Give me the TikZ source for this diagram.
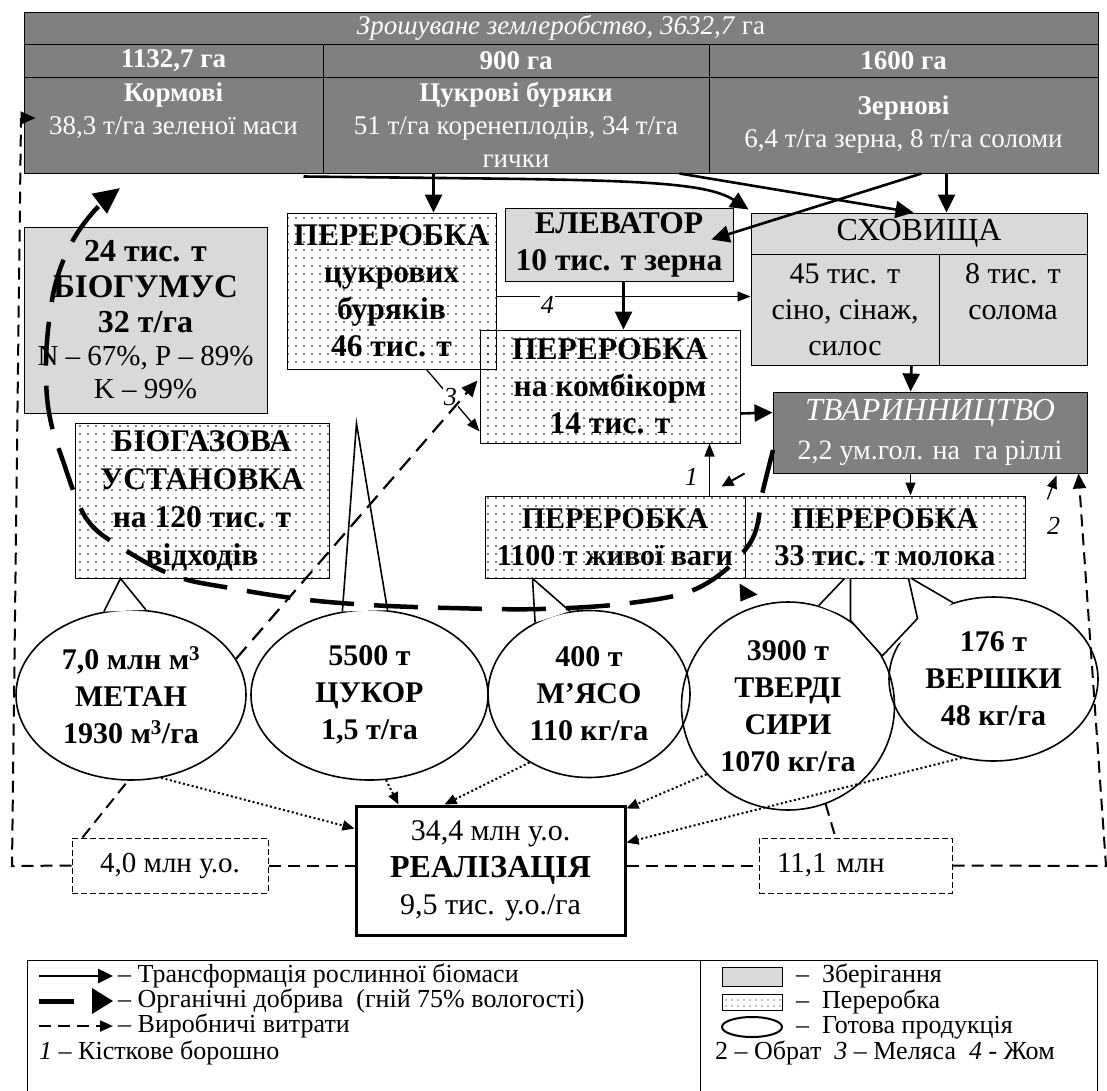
\documentclass[tikz,border=0pt]{standalone}
\usepackage{fontspec}
\setmainfont{Liberation Serif}
\usetikzlibrary{arrows.meta,calc,shapes.geometric,patterns.meta}
\definecolor{darkfill}{RGB}{128,128,128}
\definecolor{lightfill}{RGB}{217,217,217}
\tikzset{
  cell/.style={draw, line width=1pt, fill=darkfill, text=white, inner sep=0pt, align=center, font=\fontsize{27}{33}\selectfont},
  stor/.style={draw, line width=1pt, fill=lightfill, inner sep=0pt, align=center},
  proc/.style={draw, line width=1pt, pattern={Dots[distance=8pt,radius=0.9pt]}, inner sep=0pt, align=center, font=\fontsize{31.5}{37}\selectfont\bfseries},
  prod/.style={draw, ellipse, line width=1.6pt, inner sep=0pt, align=center, font=\fontsize{30}{37}\selectfont\bfseries},
  callout/.style={line width=1.6pt, line join=miter},
  tr/.style={line width=2.6pt, -{Triangle[length=18pt,width=17pt]}},
  aux/.style={line width=1.3pt, -{Triangle[length=13pt,width=10pt]}},
  cost/.style={line width=2pt, dash pattern=on 12pt off 7pt},
  sold/.style={line width=2pt, dash pattern=on 2pt off 2.5pt, -{Triangle[length=12pt,width=10pt]}},
  fert/.style={line width=4.5pt, dash pattern=on 44pt off 20pt},
  num/.style={font=\fontsize{26}{30}\selectfont\itshape, inner sep=1pt},
  lgd/.style={font=\fontsize{26}{26}\selectfont, inner sep=0pt, text height=17pt, text depth=5pt, anchor=west},
}
\begin{document}
\begin{tikzpicture}[x=1pt,y=-1pt]
\useasboundingbox (0,0) rectangle (1107,1090);
% fields
\node[cell, minimum width=1074, minimum height=32] (area) at (561,28) {\textit{Зрошуване землеробство, 3632,7} га};
\node[cell, font=\fontsize{27}{33}\selectfont\bfseries, minimum width=299, minimum height=33] (ha1) at (173.5,60.5) {1132,7 га};
\node[cell, font=\fontsize{27}{33}\selectfont\bfseries, minimum width=386, minimum height=33] (ha2) at (516,60.5) {900 га};
\node[cell, font=\fontsize{27}{33}\selectfont\bfseries, minimum width=389, minimum height=33] (ha3) at (903.5,60.5) {1600 га};
\node[cell, minimum width=299, minimum height=96] (korm) at (173.5,125) {\textbf{Кормові}\\38,3 т/га зеленої маси\\~};
\node[cell, minimum width=386, minimum height=96] (tsuk) at (516,125) {\textbf{Цукрові буряки}\\51 т/га коренеплодів, 34 т/га\\гички};
\node[cell, minimum width=389, minimum height=96] (zern) at (903.5,125) {\textbf{Зернові}\\6,4 т/га зерна, 8 т/га соломи};
% storage and processing
\node[stor, minimum width=243, minimum height=186, font=\fontsize{29}{33}\selectfont] (humus) at (145.5,320)
  {\textbf{\fontsize{32}{33}\selectfont 24 тис. т}\\[3pt]\textbf{\fontsize{33}{33}\selectfont БІОГУМУС}\\[2pt]\textbf{\fontsize{32}{33}\selectfont 32 т/га}\\N – 67\%, P – 89\%\\K – 99\%};
\node[proc, minimum width=209, minimum height=156] (sbeet) at (391.5,291) {ПЕРЕРОБКА\\цукрових\\буряків\\46 тис. т};
\node[stor, font=\fontsize{31.5}{37}\selectfont\bfseries, minimum width=228, minimum height=73] (elev) at (619,244.5) {ЕЛЕВАТОР\\10 тис. т зерна};
\node[stor, font=\fontsize{32}{37}\selectfont, minimum width=336, minimum height=41] (sklad) at (919,233.5) {СХОВИЩА};
\node[stor, font=\fontsize{30}{36}\selectfont, minimum width=188, minimum height=111] (hay) at (845,309.5) {45 тис. т\\сіно, сінаж,\\силос};
\node[stor, font=\fontsize{30}{36}\selectfont, minimum width=148, minimum height=111] (straw) at (1013,309.5) {8 тис. т\\солома\\~};
\node[proc, minimum width=260, minimum height=113] (feed) at (610,386.5) {ПЕРЕРОБКА\\на комбікорм\\14 тис. т};
\node[cell, minimum width=314, minimum height=81, font=\fontsize{28}{39}\selectfont] (live) at (930,432.5) {{\fontsize{32}{39}\selectfont\itshape ТВАРИННИЦТВО}\\2,2 ум.гол. на~ га ріллі};
\node[proc, minimum width=254, minimum height=155, font=\fontsize{31.5}{38}\selectfont\bfseries] (biogas) at (202,500.5) {БІОГАЗОВА\\УСТАНОВКА\\на 120 тис. т\\відходів};
\node[proc, minimum width=260, minimum height=82, font=\fontsize{30}{37}\selectfont\bfseries] (meat) at (615,537) {ПЕРЕРОБКА\\1100 т живої ваги};
\node[proc, minimum width=280, minimum height=82, font=\fontsize{30}{37}\selectfont\bfseries] (milk) at (885,537) {ПЕРЕРОБКА\\33 тис. т молока};
% products
\node[prod, minimum width=230, minimum height=170] (met) at (131,695) {7,0 млн м\textsuperscript{3}\\МЕТАН\\1930 м\textsuperscript{3}/га};
\node[prod, minimum width=237, minimum height=170] (sug) at (369.5,695) {5500 т\\ЦУКОР\\1,5 т/га};
\node[prod, minimum width=202, minimum height=167] (mea) at (589,694) {400 т\\М’ЯСО\\110 кг/га};
\node[prod, minimum width=213, minimum height=208] (che) at (788,706) {3900 т\\ТВЕРДІ\\СИРИ\\1070 кг/га};
\node[prod, minimum width=209, minimum height=164] (cre) at (993.5,679) {176 т\\ВЕРШКИ\\48 кг/га};
% sales
\node[draw, line width=3pt, minimum width=269, minimum height=129, inner sep=0pt, align=center, font=\fontsize{30}{37}\selectfont] (sale) at (490.5,870.5)
  {34,4 млн у.о.\\{\fontsize{32}{37}\selectfont\bfseries РЕАЛІЗАЦІЯ}\\9,5 тис. у.о./га};
\node[draw, line width=1pt, dash pattern=on 6pt off 3pt, minimum width=196, minimum height=55, inner sep=0pt, font=\fontsize{29}{33}\selectfont] (rev4) at (170,865.5) {4,0 млн у.о.};
\node[draw, line width=1pt, dash pattern=on 6pt off 3pt, minimum width=193, minimum height=55, inner xsep=18pt, inner ysep=0pt, text width=157, align=left, font=\fontsize{29}{33}\selectfont] (rev11) at (855.5,865.5) {11,1 млн};
% callouts
\coordinate (sugtip) at ($(sbeet.south west)+(70,54)$);
\fill[white] (met.108) -- ($(biogas.south west)+(46,0)$) -- (met.80) -- cycle;
\draw[callout] (met.108) -- ($(biogas.south west)+(46,0)$) -- (met.80);
\fill[white] (sug.108) -- (sugtip) -- (sug.78) -- cycle;
\draw[callout] (sug.108) -- (sugtip) -- (sug.78);
\fill[white] (mea.127) -- ($(meat.south west)+(48,0)$) -- (mea.103) -- cycle;
\draw[callout] (mea.127) -- ($(meat.south west)+(48,0)$) -- (mea.103);
\fill[white] (che.73) -- ($(milk.south west)+(100,0)$) -- ($(milk.south west)+(106,0)$) -- ($(milk.south west)+(106,42)$) -- (che.28) -- ($(che.45)+(6,-6)$) -- cycle;
\draw[callout] (che.73) -- ($(milk.south west)+(100,0)$);
\draw[callout] ($(milk.south west)+(106,0)$) -- ($(milk.south west)+(106,42)$) -- (che.28);
\fill[white] (che.28) -- ($(milk.south west)+(173,40)$) -- ($(milk.south west)+(164,0)$) -- ($(milk.south west)+(167,0)$) -- (cre.118) -- cycle;
\draw[callout] (che.28) -- ($(milk.south west)+(173,40)$) -- ($(milk.south west)+(164,0)$);
\draw[callout] ($(milk.south west)+(167,0)$) -- (cre.118);
% plant biomass
\draw[tr] ($(tsuk.south west)+(111,0)$) -- ($(sbeet.north west)+(147,0)$);
\draw[tr] ($(korm.south east)+(-20,3)$) .. controls (600,180) and (700,178) .. ($(sklad.north west)+(-2,-3)$);
\draw[tr] ($(tsuk.south east)+(-30,0)$) -- ($(sklad.north west)+(163,0)$);
\draw[tr] ($(zern.south west)+(213,0)$) -- ($(elev.north east)+(-22,32)$);
\draw[tr] ($(zern.south west)+(238,0)$) -- ($(sklad.north west)+(196,0)$);
\draw[tr] ($(elev.south west)+(119,0)$) -- ($(feed.north west)+(144,0)$);
\draw[tr] ($(feed.south east)+(0,-30)$) -- ($(live.north west)+(0,21)$);
\draw[tr] ($(hay.south east)+(-28,0)$) -- ($(live.north west)+(138,0)$);
\draw[line width=2pt, -{Triangle[length=12pt,width=11pt]}] ($(live.south west)+(-28,0)$) -- ($(meat.north east)+(-24,-9)$);
\draw[aux] ($(live.south west)+(138,0)$) -- ($(milk.north west)+(166,0)$);
\draw[aux] ($(meat.north west)+(225,0)$) -- node[num, left=10pt, pos=0.35] (n1) {1} ($(feed.south west)+(230,0)$);
\draw[aux] ($(milk.north east)+(22,4)$) -- ($(live.south east)+(-31,2)$);
\node[num] (n2) at ($(milk.north east)+(28,30)$) {2};
\draw[aux] ($(sbeet.north east)+(0,84)$) -- node[num, pos=0.2, fill=white, yshift=-8pt] (n4) {4} ($(hay.north west)+(0,43)$);
\draw[aux] ($(sbeet.south west)+(140,0)$) -- node[num, fill=white, pos=0.45] (n3) {3} ($(feed.west)+(0,45)$);
% organic fertiliser
\draw[fert, -{Triangle[length=26pt,width=24pt]}] plot[smooth, tension=0.6] coordinates {(773,450) (763,490) (750,543) (700,587) (630,603) (540,609) (450,608) (370,605) (300,599) (230,588) (175,576) (122,548) (86,518) (62,458) (50,418) (46,378) (48,330) (56,282) (72,242) (95,210) (120,188)};
\fill ($(milk.south west)+(-5,5)$) -- ($(milk.south west)+(13,16)$) -- ($(milk.south west)+(-4,23)$) -- cycle;
% production costs
\coordinate (lb) at (12,866);
\coordinate (lt) at (21,118);
\coordinate (rb) at (1106,866);
\draw[cost, -{Triangle[length=15pt,width=13pt]}] (rev4.west) -- (lb) -- (lt) -- ($(korm.west)+(12,-7)$);
\draw[cost, -{Triangle[length=15pt,width=13pt]}] (rev11.east) -- (rb) -- ($(live.south east)+(-9,0)$);
\draw[cost] (rev4.east) -- (rev4.east -| sale.west);
\draw[cost] (sale.east |- rev11.west) -- (rev11.west);
\draw[cost] ($(rev4.north west)+(11,0)$) -- (met.-92);
\draw[cost] (che.-69) -- ($(rev11.north west)+(77,0)$);
\draw[cost, line width=2.2pt, dash pattern=on 16pt off 9pt, -{Triangle[length=16pt,width=14pt]}] (met.19) -- ($(feed.west)+(-2,-6)$);
% to sales
\draw[sold] (met.-70) -- ($(sale.north west)+(0,24)$);
\draw[sold] (sug.-79) -- ($(sale.north west)+(44,0)$);
\draw[sold] (mea.-131) -- ($(sale.north west)+(90,0)$);
\draw[sold] (che.-140) -- ($(sale.north east)+(0,4)$);
\draw[sold] (cre.-112) -- ($(sale.north east)+(0,38)$);
% legend
\draw[line width=1pt] (27,960) rectangle (1097,1100);
\draw[line width=1pt] (700,960) -- (700,1100);
\draw[line width=2.6pt, -{Triangle[length=15pt,width=14pt]}] (39,976) -- (113,976);
\draw[line width=5pt] (39,1001) -- (74,1001);
\fill (92,988) -- (113,1001) -- (92,1014) -- cycle;
\draw[cost, -{Triangle[length=13pt,width=11pt]}] (39,1026) -- (113,1026);
\node[lgd] (lg1) at (118,976) {– Трансформація рослинної біомаси};
\node[lgd] (lg2) at (118,1001) {– Органічні добрива~ (гній 75\% вологості)};
\node[lgd] (lg3) at (118,1026) {– Виробничі витрати};
\node[lgd] (lg4) at (39,1053) {\textit{1} – Кісткове борошно};
\draw[line width=1pt, fill=lightfill] (722,967) rectangle (782,986);
\draw[line width=1pt, pattern={Dots[distance=6pt,radius=0.7pt]}] (722,994) rectangle (782,1010);
\draw[line width=2pt] (752,1027) ellipse (30 and 10);
\node[lgd] (lg5) at (796,976) {–~ Зберігання};
\node[lgd] (lg6) at (796,1002) {–~ Переробка};
\node[lgd] (lg7) at (796,1027) {–~ Готова продукція};
\node[lgd] (lg8) at (715,1053) {2 – Обрат~ \textit{3} – Меляса~ \textit{4} - Жом};
\end{tikzpicture}
\end{document}
